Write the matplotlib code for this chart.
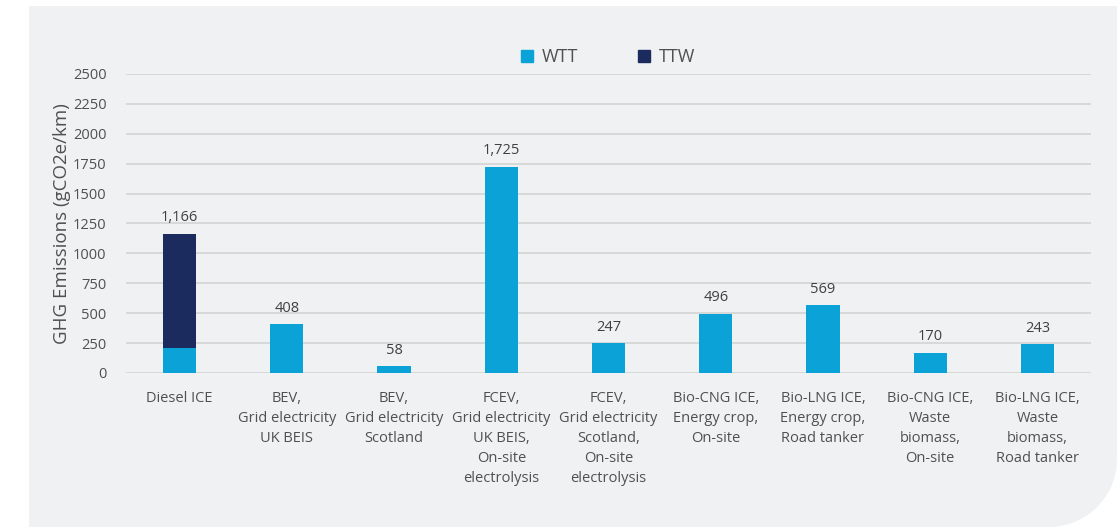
import numpy as np
import matplotlib
matplotlib.use('Agg')
import matplotlib.pyplot as plt
from matplotlib.path import Path
from matplotlib.patches import PathPatch, Patch

plt.rcParams['font.family'] = ['Open Sans', 'DejaVu Sans']

categories = ['Diesel ICE',
              'BEV,\nGrid electricity\nUK BEIS',
              'BEV,\nGrid electricity\nScotland',
              'FCEV,\nGrid electricity\nUK BEIS,\nOn-site\nelectrolysis',
              'FCEV,\nGrid electricity\nScotland,\nOn-site\nelectrolysis',
              'Bio-CNG ICE,\nEnergy crop,\nOn-site',
              'Bio-LNG ICE,\nEnergy crop,\nRoad tanker',
              'Bio-CNG ICE,\nWaste\nbiomass,\nOn-site',
              'Bio-LNG ICE,\nWaste\nbiomass,\nRoad tanker']
wtt = [212, 408, 58, 1725, 247, 496, 569, 170, 243]
ttw = [954, 0, 0, 0, 0, 0, 0, 0, 0]
totals = [1166, 408, 58, 1725, 247, 496, 569, 170, 243]

WTT_COL = '#0ba3d7'
TTW_COL = '#1c2b5e'
TXT = '#505050'
PANEL = '#f0f1f3'

W, H = 1119, 527
fig = plt.figure(figsize=(W / 100, H / 100), dpi=100, facecolor='white')

# light panel with rounded bottom-right corner (pixel coords -> figure fraction)
r = 68
x0, y0, x1, y1 = 29, 0, W - 2, H - 6
verts = [(x0, y0), (x0, y1), (x1, y1), (x1, y0 + r)]
for t in np.linspace(0, np.pi / 2, 20):
    verts.append((x1 - r + r * np.cos(t), y0 + r - r * np.sin(t)))
verts.append((x0, y0))
verts = [(vx / W, vy / H) for vx, vy in verts]
panel = PathPatch(Path(verts, closed=True), facecolor=PANEL, edgecolor='none',
                  transform=fig.transFigure, zorder=-10)
fig.patches.append(panel)

ax = fig.add_axes([126 / W, 154 / H, 965 / W, 299 / H])
ax.set_facecolor('none')
ax.set_zorder(1)

x = np.arange(len(categories))
bw = 0.31
ax.bar(x, wtt, bw, color=WTT_COL, zorder=3)
ax.bar(x, ttw, bw, bottom=wtt, color=TTW_COL, zorder=3)

for xi, tot in zip(x, totals):
    ax.text(xi, tot + 70, f'{tot:,}', ha='center', va='bottom',
            fontsize=10.5, color='#404040')

ax.set_xlim(-0.5, len(categories) - 0.5)
ax.set_ylim(0, 2500)
ax.set_yticks(np.arange(0, 2501, 250))
ax.yaxis.grid(True, color='#d3d3d3', linewidth=1.2, zorder=0)
ax.set_axisbelow(True)
for s in ax.spines.values():
    s.set_visible(False)
ax.tick_params(axis='both', length=0, colors=TXT, labelsize=10.5)
ax.tick_params(axis='y', pad=14)
ax.tick_params(axis='x', pad=13)
ax.set_xticks(x)
ax.set_xticklabels(categories, linespacing=1.45, va='top')
ax.set_ylabel('GHG Emissions (gCO2e/km)', fontsize=13.5, color=TXT)
ax.yaxis.set_label_coords(-0.057, 0.5)

handles = [Patch(color=WTT_COL, label='WTT'), Patch(color=TTW_COL, label='TTW')]
leg = fig.legend(handles=handles, loc='center', bbox_to_anchor=(608 / W, 1 - 57 / H),
                 ncol=2, frameon=False, fontsize=13, handlelength=0.65, handleheight=0.65,
                 handletextpad=0.5, columnspacing=3.3)
for t in leg.get_texts():
    t.set_color(TXT)

fig.savefig('out.png', dpi=100, facecolor=fig.get_facecolor())
